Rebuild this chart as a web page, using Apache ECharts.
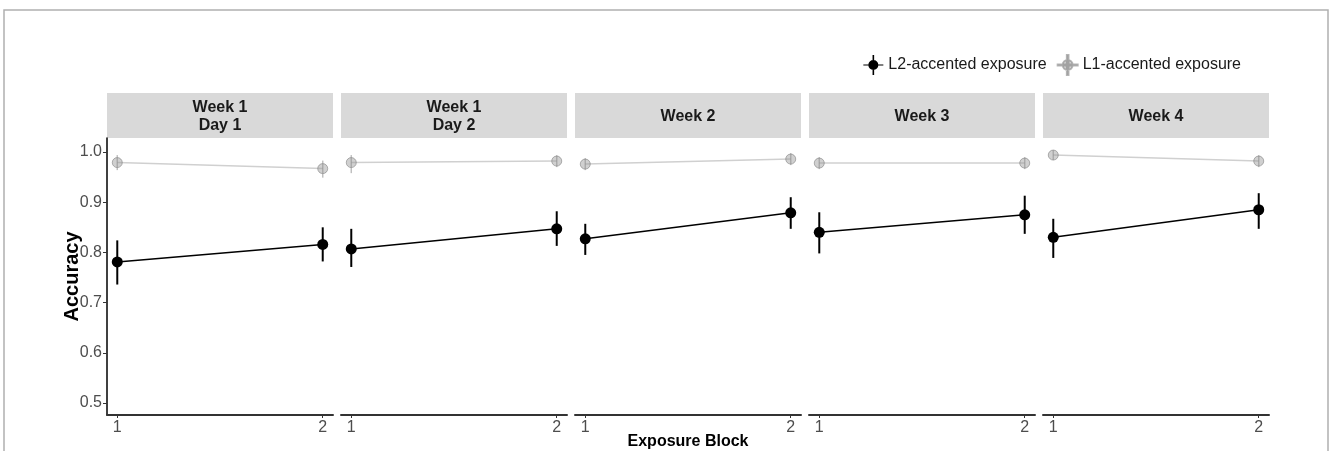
<!DOCTYPE html>
<html>
<head>
<meta charset="utf-8">
<script src="https://cdn.jsdelivr.net/npm/echarts@6/dist/echarts.min.js"></script>
<style>html,body{margin:0;padding:0;background:#fff;}#c{width:1331px;height:451px;}</style>
</head>
<body>
<div id="c"></div>
<script>
// ---- data ----
const panels = ['Week 1\nDay 1', 'Week 1\nDay 2', 'Week 2', 'Week 3', 'Week 4'];
const blocks = [1, 2];
const yTicks = [0.5, 0.6, 0.7, 0.8, 0.9, 1.0];
const seriesNames = ['L2-accented exposure', 'L1-accented exposure'];
const l2Mean = [[0.781, 0.816], [0.807, 0.847], [0.827, 0.879], [0.840, 0.875], [0.830, 0.885]];
const l2Lo   = [[0.736, 0.782], [0.771, 0.813], [0.795, 0.847], [0.798, 0.837], [0.789, 0.847]];
const l2Hi   = [[0.824, 0.850], [0.847, 0.882], [0.857, 0.910], [0.880, 0.913], [0.867, 0.918]];
const l1Mean = [[0.979, 0.967], [0.979, 0.982], [0.976, 0.986], [0.978, 0.978], [0.994, 0.982]];
const l1Lo   = [[0.964, 0.949], [0.958, 0.970], [0.964, 0.974], [0.966, 0.966], [0.984, 0.970]];
const l1Hi   = [[0.994, 0.983], [0.994, 0.994], [0.988, 0.998], [0.990, 0.990], [1.004, 0.994]];

// ---- layout ----
const FONT = '"Liberation Sans", Arial, sans-serif';
const panelLeft0 = 107, panelW = 226, panelStep = 234, gridTop = 138, gridH = 277;
const stripTop = 93, stripH = 45;

const grids = [], xAxes = [], yAxes = [], series = [], graphics = [];

graphics.push({type: 'rect', shape: {x: 4, y: 10, width: 1324, height: 470},
  style: {fill: 'none', stroke: '#b0b0b0', lineWidth: 1.5}, silent: true});

function errRender(color, width) {
  return function (params, api) {
    const x = api.value(0);
    const lo = api.coord([x, api.value(1)]);
    const hi = api.coord([x, api.value(2)]);
    return {type: 'line', shape: {x1: lo[0], y1: lo[1], x2: hi[0], y2: hi[1]},
      style: {stroke: color, lineWidth: width}};
  };
}

panels.forEach((p, i) => {
  const left = panelLeft0 + i * panelStep;
  grids.push({left: left, top: gridTop, width: panelW, height: gridH});
  xAxes.push({
    type: 'value', gridIndex: i, min: 0.95, max: 2.05,
    splitLine: {show: false},
    axisLine: {show: true, lineStyle: {color: '#333333', width: 2}},
    axisTick: {show: true, length: 3, customValues: blocks, lineStyle: {color: '#333333', width: 1}},
    axisLabel: {customValues: blocks, color: '#4d4d4d', fontSize: 16, fontFamily: FONT, margin: 5,
      formatter: v => String(v)}
  });
  yAxes.push({
    type: 'value', gridIndex: i, min: 0.476, max: 1.028,
    splitLine: {show: false},
    axisLine: {show: i === 0, onZero: false, lineStyle: {color: '#000000', width: 1.5}},
    axisTick: {show: i === 0, length: 4, customValues: yTicks, lineStyle: {color: '#333333'}},
    axisLabel: {show: i === 0, customValues: yTicks, color: '#4d4d4d', fontSize: 16, fontFamily: FONT, margin: 5,
      formatter: v => v.toFixed(1)}
  });
  // strip
  graphics.push({type: 'rect', shape: {x: left, y: stripTop, width: panelW, height: stripH},
    style: {fill: '#d9d9d9'}, silent: true});
  graphics.push({type: 'text', x: left + panelW / 2, y: stripTop + stripH / 2 + 1,
    style: {text: p, fill: '#1a1a1a', font: 'bold 16px ' + FONT, align: 'center', verticalAlign: 'middle', lineHeight: 18},
    silent: true});

  const l1Pts = blocks.map((b, j) => [b, l1Mean[i][j]]);
  const l2Pts = blocks.map((b, j) => [b, l2Mean[i][j]]);
  series.push({
    name: seriesNames[1], type: 'line', xAxisIndex: i, yAxisIndex: i, data: l1Pts,
    symbol: 'circle', symbolSize: 10,
    lineStyle: {color: '#d0d0d0', width: 1.5},
    itemStyle: {color: 'rgba(150,150,150,0.45)', borderColor: 'rgba(120,120,120,0.55)', borderWidth: 1},
    z: 2, silent: true, animation: false
  });
  series.push({
    name: seriesNames[1], type: 'custom', xAxisIndex: i, yAxisIndex: i,
    data: blocks.map((b, j) => [b, l1Lo[i][j], l1Hi[i][j]]),
    renderItem: errRender('rgba(140,140,140,0.55)', 1.5), z: 3, silent: true, animation: false
  });
  series.push({
    name: seriesNames[0], type: 'line', xAxisIndex: i, yAxisIndex: i, data: l2Pts,
    symbol: 'circle', symbolSize: 11,
    lineStyle: {color: '#000000', width: 1.5},
    itemStyle: {color: '#000000'},
    z: 4, silent: true, animation: false
  });
  series.push({
    name: seriesNames[0], type: 'custom', xAxisIndex: i, yAxisIndex: i,
    data: blocks.map((b, j) => [b, l2Lo[i][j], l2Hi[i][j]]),
    renderItem: errRender('#000000', 2), z: 5, silent: true, animation: false
  });
});

graphics.push({type: 'text', x: 72, y: 276.5, rotation: Math.PI / 2,
  style: {text: 'Accuracy', fill: '#000', font: 'bold 20px ' + FONT, align: 'center', verticalAlign: 'middle'}, silent: true});
graphics.push({type: 'text', x: 688, y: 442,
  style: {text: 'Exposure Block', fill: '#000', font: 'bold 16px ' + FONT, align: 'center', verticalAlign: 'middle'}, silent: true});

const iconPath = 'path://M9.2,0 L10.8,0 L10.8,20 L9.2,20 Z M0,9.5 L20,9.5 L20,10.5 L0,10.5 Z M15,10 A5,5 0 1,1 5,10 A5,5 0 1,1 15,10 Z';

const chart = echarts.init(document.getElementById('c'), null, {renderer: 'canvas'});
chart.setOption({
  backgroundColor: '#ffffff',
  animation: false,
  grid: grids,
  xAxis: xAxes,
  yAxis: yAxes,
  legend: {
    right: 85, top: 49, itemWidth: 20, itemHeight: 20, itemGap: 10,
    textStyle: {fontSize: 16, color: '#1a1a1a', fontFamily: FONT},
    data: [
      {name: seriesNames[0], icon: iconPath, itemStyle: {color: '#000000'}},
      {name: seriesNames[1], icon: iconPath, itemStyle: {color: 'rgba(170,170,170,0.5)'}}
    ],
    selectedMode: false
  },
  graphic: graphics,
  series: series
});
</script>
</body>
</html>
